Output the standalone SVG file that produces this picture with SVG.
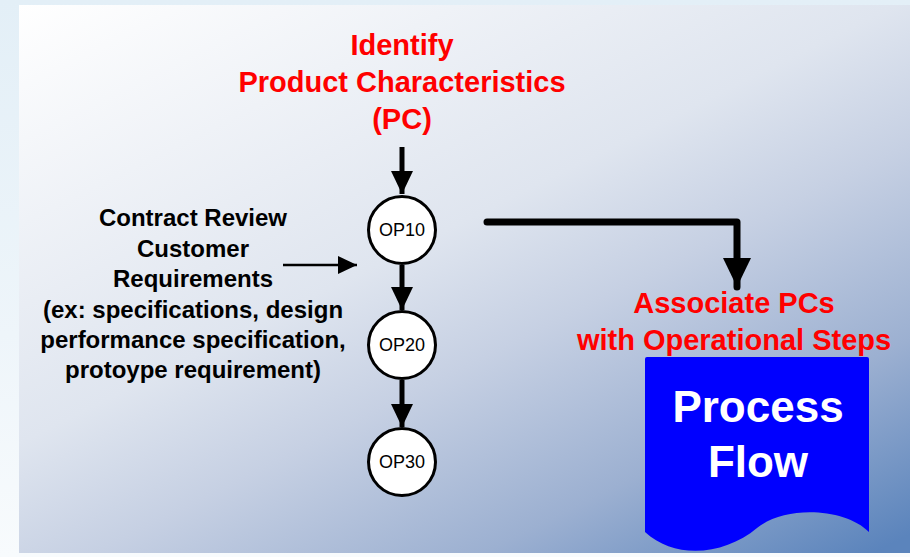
<svg xmlns="http://www.w3.org/2000/svg" width="910" height="557" viewBox="0 0 910 557">
  <defs>
    <linearGradient id="panelGrad" gradientUnits="userSpaceOnUse" x1="19" y1="5" x2="409" y2="785">
      <stop offset="0" stop-color="#ffffff"/>
      <stop offset="0.45" stop-color="#dfe5ef"/>
      <stop offset="0.6" stop-color="#c6d0e3"/>
      <stop offset="0.8" stop-color="#9cb0d1"/>
      <stop offset="1" stop-color="#5b84bc"/>
    </linearGradient>
    <linearGradient id="edgeGrad" x1="0" y1="0" x2="0" y2="1">
      <stop offset="0" stop-color="#e3eff7"/>
      <stop offset="0.6" stop-color="#eef5fa"/>
      <stop offset="1" stop-color="#f8fbfd"/>
    </linearGradient>
    <marker id="headBig" viewBox="0 0 24 24" markerWidth="24" markerHeight="24" refX="23" refY="12" orient="auto" markerUnits="userSpaceOnUse">
      <path d="M0,1 L23,12 L0,23 Z" fill="#000"/>
    </marker>
    <marker id="headSmall" viewBox="0 0 20 20" markerWidth="20" markerHeight="20" refX="19" refY="10" orient="auto" markerUnits="userSpaceOnUse">
      <path d="M0,1 L19,10 L0,19 Z" fill="#000"/>
    </marker>
    <marker id="headWide" viewBox="0 0 30 30" markerWidth="30" markerHeight="30" refX="29" refY="15" orient="auto" markerUnits="userSpaceOnUse">
      <path d="M0,1 L29,15 L0,29 Z" fill="#000"/>
    </marker>
  </defs>
  <style>
    .red { font-family: "Liberation Sans", Arial, sans-serif; font-weight: bold; font-size: 29px; fill: #ff0000; text-anchor: middle; }
    .blk { font-family: "Liberation Sans", Arial, sans-serif; font-weight: bold; font-size: 24px; fill: #000; text-anchor: middle; }
    .op { font-family: "Liberation Sans", Arial, sans-serif; font-size: 18px; fill: #000; text-anchor: middle; }
    .doc { font-family: "Liberation Sans", Arial, sans-serif; font-weight: bold; font-size: 44px; fill: #ffffff; text-anchor: middle; }
    .node circle { fill: #ffffff; stroke: #000; stroke-width: 3; }
    .conn { fill: none; stroke: #000; }
  </style>

  <rect x="0" y="0" width="910" height="557" fill="url(#edgeGrad)"/>
  <rect x="19" y="5" width="891" height="548" fill="url(#panelGrad)"/>

  <g id="title">
    <text class="red" x="402" y="55">Identify</text>
    <text class="red" x="402" y="92">Product Characteristics</text>
    <text class="red" x="402" y="129">(PC)</text>
  </g>

  <g id="inputs">
    <text class="blk" x="193" y="226">Contract Review</text>
    <text class="blk" x="193" y="257">Customer</text>
    <text class="blk" x="193" y="287">Requirements</text>
    <text class="blk" x="193" y="318">(ex: specifications, design</text>
    <text class="blk" x="193" y="348">performance specification,</text>
    <text class="blk" x="193" y="378">protoype requirement)</text>
  </g>

  <g id="connectors">
    <line class="conn" x1="402" y1="147" x2="402" y2="194" stroke-width="5" marker-end="url(#headBig)"/>
    <line class="conn" x1="402" y1="265" x2="402" y2="310" stroke-width="5" marker-end="url(#headBig)"/>
    <line class="conn" x1="402" y1="380" x2="402" y2="427" stroke-width="5" marker-end="url(#headBig)"/>
    <line class="conn" x1="283" y1="265" x2="357" y2="265" stroke-width="2.5" marker-end="url(#headSmall)"/>
    <path class="conn" d="M487,222 H737 V287" stroke-width="7" stroke-linecap="round" stroke-linejoin="round" marker-end="url(#headWide)"/>
  </g>

  <g id="op10" class="node">
    <circle cx="402" cy="230" r="33.5"/>
    <text class="op" x="402" y="236">OP10</text>
  </g>
  <g id="op20" class="node">
    <circle cx="402" cy="345" r="33.5"/>
    <text class="op" x="402" y="351">OP20</text>
  </g>
  <g id="op30" class="node">
    <circle cx="402" cy="462" r="33.5"/>
    <text class="op" x="402" y="468">OP30</text>
  </g>

  <g id="associate">
    <text class="red" x="734" y="313">Associate PCs</text>
    <text class="red" x="734" y="350">with Operational Steps</text>
  </g>

  <g id="processFlow">
    <path d="M647,357 H867 Q869,357 869,359 V532 C845,508 785,505 757,528 C725,555 675,560 645,532 V359 Q645,357 647,357 Z" fill="#0000ff"/>
    <text class="doc" x="758" y="422">Process</text>
    <text class="doc" x="758" y="477">Flow</text>
  </g>
</svg>
